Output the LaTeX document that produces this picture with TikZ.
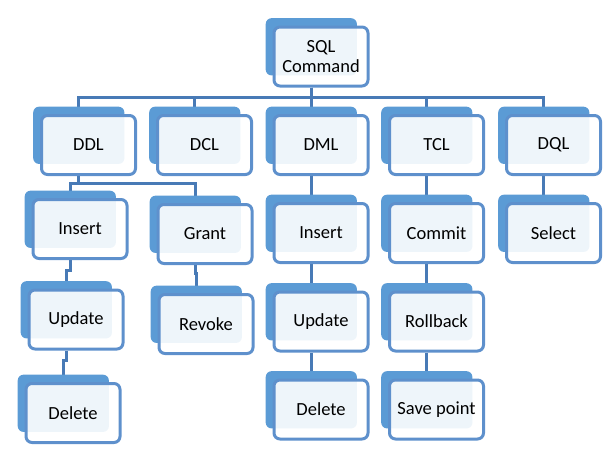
\documentclass[tikz,border=0pt]{standalone}
\usepackage{fontspec}
\setmainfont{Carlito}
\usetikzlibrary{shadows,backgrounds}
\definecolor{backblue}{RGB}{91,155,213}
\definecolor{edgeblue}{RGB}{94,144,204}
\definecolor{linkblue}{RGB}{72,122,182}
\begin{document}
\begin{tikzpicture}[x=1pt,y=-1pt,
    cmd/.style={draw=edgeblue,line width=3pt,rounded corners=6pt,fill=white,fill opacity=0.9,text opacity=1,
      minimum width=94pt,minimum height=59pt,inner sep=1pt,align=center,
      font=\fontsize{18.5}{20}\selectfont,
      general shadow={fill=backblue,fill opacity=1,shadow xshift=-10pt,shadow yshift=10pt,shadow scale=0.97}},
    link/.style={draw=linkblue,line width=3pt}]
    \useasboundingbox (0,0) rectangle (603,458);
    % root and the five command groups
    \node[cmd] (sql) at (321,56.5) {SQL\\Command};
    \node[cmd] (ddl) at (88.5,145) {DDL};
    \node[cmd] (dcl) at (204.5,145) {DCL};
    \node[cmd] (dml) at (321,145) {DML};
    \node[cmd] (tcl) at (436.5,145) {TCL};
    \node[cmd] (dql) at (553.5,145) {DQL};
    % DDL and DCL branches
    \node[cmd] (insa) at (80,229) {Insert};
    \node[cmd] (upda) at (76,319.5) {Update};
    \node[cmd] (dela) at (73,413) {Delete};
    \node[cmd] (grant) at (205,234) {Grant};
    \node[cmd] (revoke) at (206,324) {Revoke};
    % DML, TCL and DQL branches
    \node[cmd] (insb) at (321,233) {Insert};
    \node[cmd] (updb) at (321,321.5) {Update};
    \node[cmd] (delb) at (321,409.5) {Delete};
    \node[cmd] (commit) at (436.5,233) {Commit};
    \node[cmd] (rollback) at (436.5,321.5) {Rollback};
    \node[cmd] (savept) at (436.5,409.5) {Save point};
    \node[cmd] (select) at (553.5,233) {Select};
    \foreach \n in {sql,ddl,dcl,dml,tcl,dql,insa,upda,dela,grant,revoke,insb,updb,delb,commit,rollback,savept,select}{
      \coordinate (\n top) at ([xshift=-10pt]\n.north);
      \coordinate (\n bot) at ([xshift=-10pt]\n.south);
    }
    \coordinate (bus) at (0,97);
    \begin{scope}[on background layer]
      \foreach \n in {ddl,dcl,dml,tcl,dql}
        \draw[link] (sqlbot) |- (bus -| \n top) -- (\n top);
      \draw[link] (ddlbot) -- ++(0,7) -| (insatop);
      \draw[link] (ddlbot) -- ++(0,7) -| (granttop);
      \draw[link] (insabot) -- ++(0,10) -| (updatop);
      \draw[link] (updabot) -- ++(0,10) -| (delatop);
      \draw[link] (grantbot) -- ++(0,8) -| (revoketop);
      \draw[link] (dmlbot) -- (insbtop);
      \draw[link] (insbbot) -- (updbtop);
      \draw[link] (updbbot) -- (delbtop);
      \draw[link] (tclbot) -- (committop);
      \draw[link] (commitbot) -- (rollbacktop);
      \draw[link] (rollbackbot) -- (savepttop);
      \draw[link] (dqlbot) -- (selecttop);
    \end{scope}
\end{tikzpicture}
\end{document}
